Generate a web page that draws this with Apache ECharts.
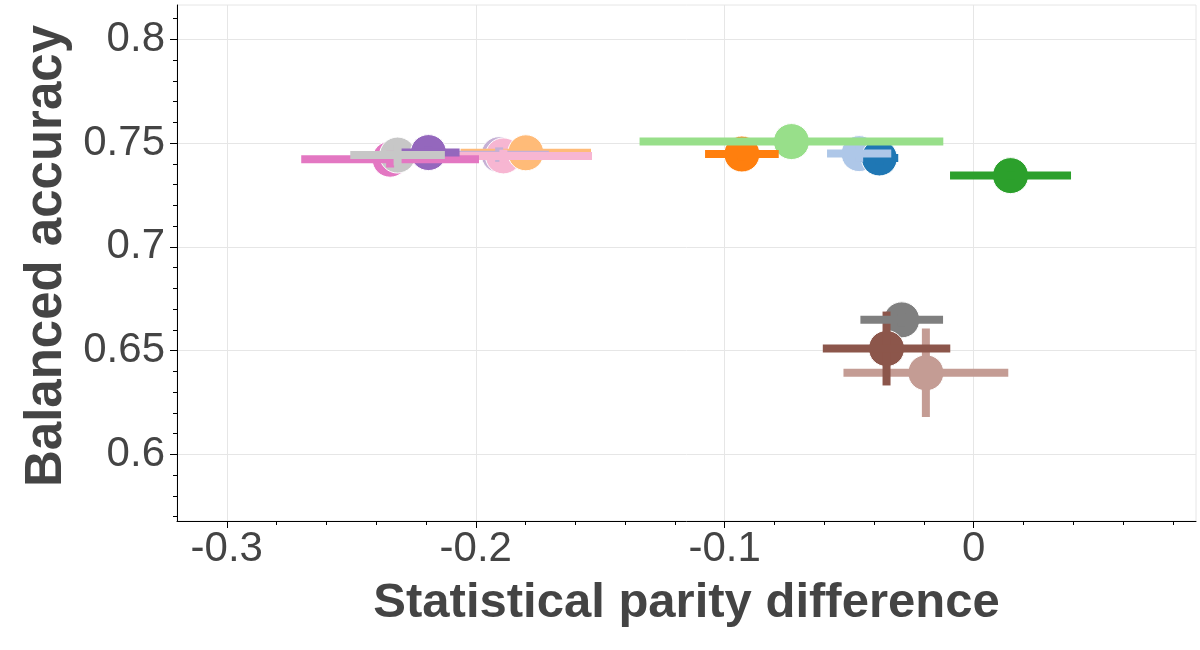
<!DOCTYPE html>
<html>
<head>
<meta charset="utf-8">
<script src="https://cdn.jsdelivr.net/npm/echarts@6/dist/echarts.min.js"></script>
<style>
html,body{margin:0;padding:0;background:#fff;}
#chart{width:1200px;height:650px;}
</style>
</head>
<body>
<div id="chart"></div>
<script>
// ---- Data ----
var methods   = ['M1','M2','M3','M4','M5','M6','M7','M8','M9','M10','M11','M12','M13','M14'];
var parityDiff = [-0.0379, -0.0460, -0.0931, -0.1799, 0.0148, -0.0732, -0.2190, -0.1906, -0.0350, -0.0192, -0.2344, -0.1889, -0.0289, -0.2314];
var balancedAcc = [0.7428, 0.7449, 0.7447, 0.7453, 0.7343, 0.7507, 0.7454, 0.7444, 0.6510, 0.6393, 0.7422, 0.7438, 0.6648, 0.7442];
var parityErr  = [0.0076, 0.0129, 0.0148, 0.0262, 0.0243, 0.0610, 0.0125, 0.0200, 0.0256, 0.0331, 0.0357, 0.0356, 0.0166, 0.0190];
var accErr     = [0.0030, 0.0040, 0.0030, 0.0030, 0.0020, 0.0020, 0.0030, 0.0035, 0.0178, 0.0213, 0.0040, 0.0030, 0.0030, 0.0050];
var xTicks = [-0.3, -0.2, -0.1, 0];
var yTicks = [0.6, 0.65, 0.7, 0.75, 0.8];

// ---- Styles ----
var palette = ['#1f77b4','#aec7e8','#ff7f0e','#ffbb78','#2ca02c','#98df8a','#9467bd','#c5b0d5',
               '#8c564b','#c49c94','#e377c2','#f7b6d2','#7f7f7f','#c7c7c7'];
var markerOrder = [1,0,2,5,4,12,8,9,10,13,6,7,11,3];
var barOrder    = [3,7,11,10,6,13,9,8,12,2,0,1,5,4];

var scatterData = markerOrder.map(function(i){
  return {value:[parityDiff[i], balancedAcc[i]], itemStyle:{color:palette[i]}};
});
var barData = barOrder.map(function(i){
  return [i, parityDiff[i], balancedAcc[i], parityErr[i], accErr[i]];
});

var chart = echarts.init(document.getElementById('chart'), null, {renderer:'canvas'});
var font = 'Liberation Sans, Arial, Helvetica, sans-serif';
var axisCommon = {
  axisLine:{show:true, onZero:false, lineStyle:{color:'#000', width:1}},
  axisTick:{show:true, length:7, lineStyle:{color:'#000', width:1}},
  minorTick:{show:true, splitNumber:5, length:4, lineStyle:{color:'#000', width:1}},
  splitLine:{show:true, lineStyle:{color:'#e6e6e6', width:1}},
  axisLabel:{color:'#444', fontSize:42, fontFamily:font},
  nameTextStyle:{color:'#444', fontSize:49, fontWeight:'bold', fontFamily:font}
};

chart.setOption({
  animation:false,
  backgroundColor:'#fff',
  grid:{left:177, right:4, top:5, bottom:129, show:true, borderColor:'#e6e6e6', borderWidth:1, backgroundColor:'transparent'},
  xAxis: echarts.util.merge({
    type:'value', min:-0.32, max:0.0893,
    name:'Statistical parity difference', nameLocation:'middle', nameGap:58,
    axisTick:{customValues:xTicks},
    axisLabel:{customValues:xTicks, margin:7}
  }, axisCommon),
  yAxis: echarts.util.merge({
    type:'value', min:0.5679, max:0.8165,
    name:'Balanced accuracy', nameLocation:'middle', nameGap:97,
    nameTextStyle:{fontSize:51, padding:[0,0,0,14]},
    axisTick:{customValues:yTicks},
    axisLabel:{customValues:yTicks, margin:12}
  }, axisCommon),
  series:[
    {
      type:'scatter', z:2, symbol:'circle', symbolSize:36,
      itemStyle:{borderColor:'#fff', borderWidth:1, opacity:1},
      data:scatterData
    },
    {
      type:'custom', z:3,
      encode:{x:1, y:2},
      renderItem:function(params, api){
        var i = api.value(0), x = api.value(1), y = api.value(2), xe = api.value(3), ye = api.value(4);
        var l = api.coord([x - xe, y]), r = api.coord([x + xe, y]);
        var t = api.coord([x, y + ye]), b = api.coord([x, y - ye]);
        var w = 8, c = palette[i];
        return {type:'group', children:[
          {type:'rect', shape:{x:t[0]-w/2, y:t[1], width:w, height:b[1]-t[1]}, style:{fill:c}},
          {type:'rect', shape:{x:l[0], y:l[1]-w/2, width:r[0]-l[0], height:w}, style:{fill:c}}
        ]};
      },
      data:barData
    }
  ]
});
</script>
</body>
</html>
